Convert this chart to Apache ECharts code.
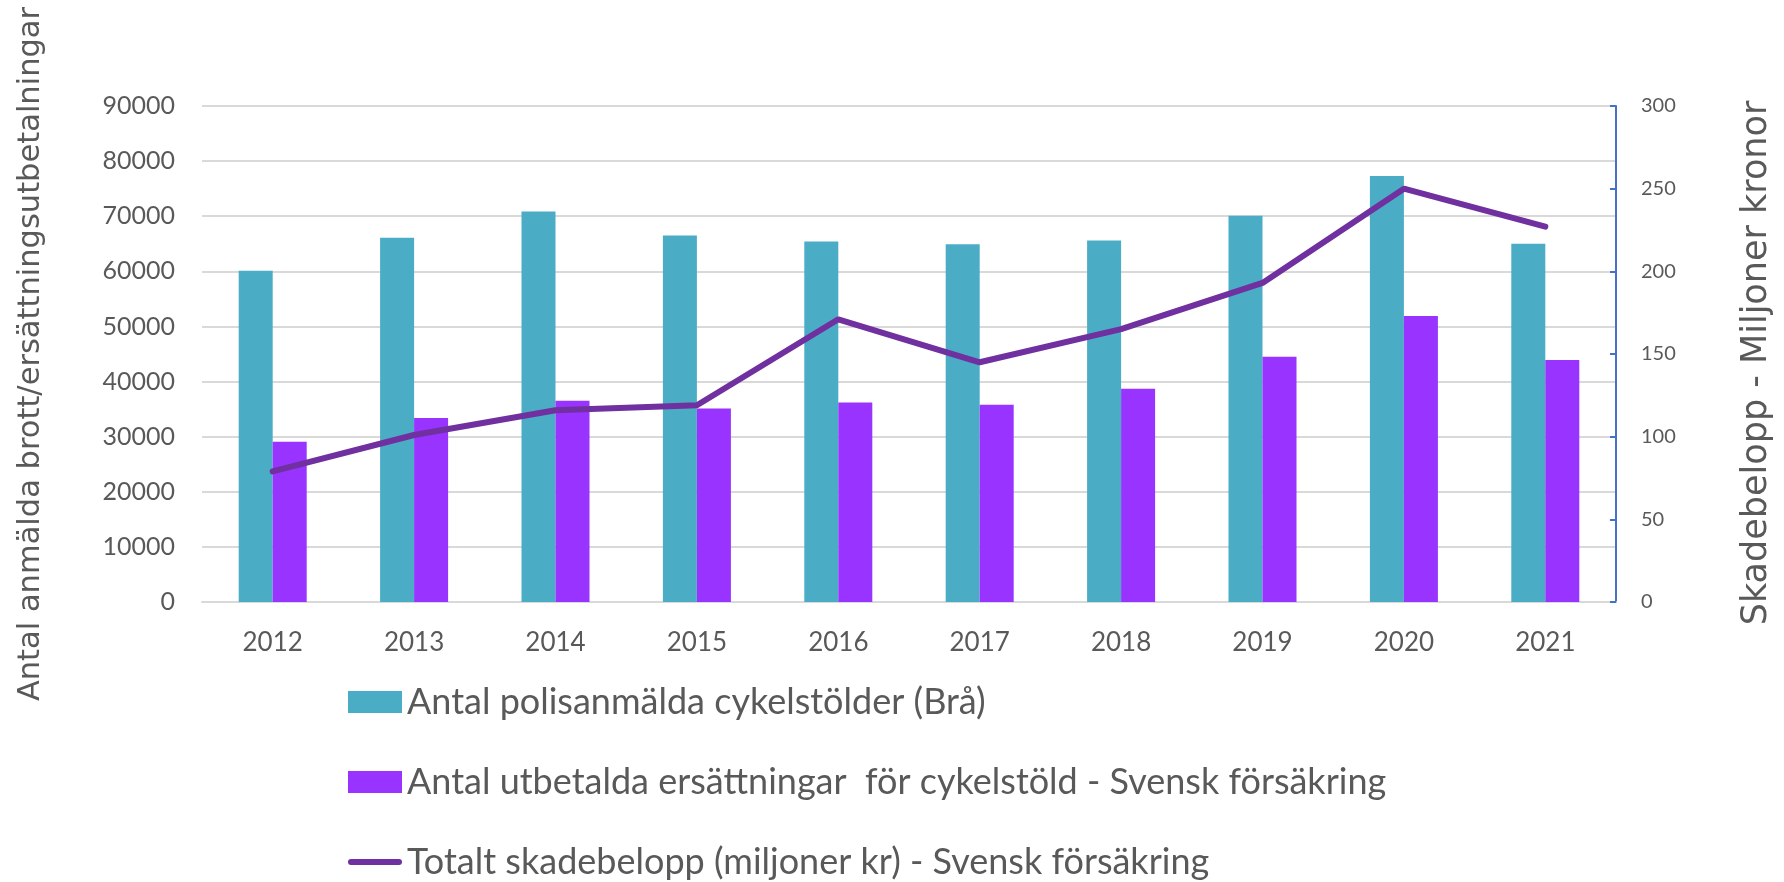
<!DOCTYPE html>
<html>
<head>
<meta charset="utf-8">
<script src="https://cdn.jsdelivr.net/npm/echarts@6/dist/echarts.min.js"></script>
<style>
html, body { margin: 0; padding: 0; background: #fff; }
#chart { width: 1784px; height: 882px; }
</style>
</head>
<body>
<div id="chart"></div>
<script>
// data
var years = ['2012', '2013', '2014', '2015', '2016', '2017', '2018', '2019', '2020', '2021'];
var polisanmalda = [60100, 66100, 70850, 66500, 65400, 64900, 65600, 70100, 77300, 65000];
var utbetalda = [29100, 33400, 36500, 35100, 36200, 35800, 38700, 44500, 51900, 43900];
var skadebelopp = [79, 101, 116, 119, 171, 145, 165, 193, 250, 227];

var names = [
    'Antal polisanmälda cykelstölder (Brå)',
    'Antal utbetalda ersättningar  för cykelstöld - Svensk försäkring',
    'Totalt skadebelopp (miljoner kr) - Svensk försäkring'
];

var textGrey = '#595959';
// thin rounded stroke for the line series in the legend (box kept 54x22)
var lineIcon = 'path://M0,0L0.01,0M3,8L51,8A3,3,0,0,1,51,14L3,14A3,3,0,0,1,3,8ZM0,22L0.01,22';

var myChart = echarts.init(document.getElementById('chart'));

var option = {
    animation: false,
    grid: { left: 202, right: 168, top: 106, bottom: 280 },
    legend: {
        orient: 'vertical',
        left: 343,
        top: 677,
        height: 260,
        itemWidth: 54,
        itemHeight: 22,
        itemGap: 40,
        data: [
            { name: names[0], icon: 'rect' },
            { name: names[1], icon: 'rect' },
            { name: names[2], icon: lineIcon }
        ],
        textStyle: {
            color: textGrey,
            fontFamily: 'Lato',
            fontSize: 36,
            lineHeight: 40
        }
    },
    xAxis: {
        type: 'category',
        data: years,
        axisTick: { show: false },
        axisLine: { lineStyle: { color: '#d9d9d9', width: 2 } },
        axisLabel: {
            color: textGrey,
            fontFamily: 'Lato',
            fontSize: 26,
            margin: 28
        }
    },
    yAxis: [{
        type: 'value',
        min: 0,
        max: 90000,
        interval: 10000,
        axisLine: { show: false },
        axisTick: { show: false },
        axisLabel: {
            color: textGrey,
            fontFamily: 'Lato',
            fontSize: 25,
            margin: 27,
            formatter: function (v) { return String(v); }
        },
        splitLine: { lineStyle: { color: '#d9d9d9', width: 2 } }
    }, {
        type: 'value',
        min: 0,
        max: 300,
        interval: 50,
        position: 'right',
        axisLine: { show: true, lineStyle: { color: '#4472c4', width: 2 } },
        axisTick: { show: true, inside: true, length: 6, lineStyle: { color: '#4472c4', width: 2 } },
        axisLabel: {
            color: textGrey,
            fontFamily: 'Lato',
            fontSize: 20,
            margin: 25
        },
        splitLine: { show: false }
    }],
    graphic: [{
        type: 'text',
        x: 31,
        y: 354,
        rotation: Math.PI / 2,
        style: {
            text: 'Antal anmälda brott/ersättningsutbetalningar',
            fill: textGrey,
            fontFamily: 'DejaVu Sans',
            fontSize: 30.5,
            align: 'center',
            verticalAlign: 'middle'
        }
    }, {
        type: 'text',
        x: 1757,
        y: 363,
        rotation: Math.PI / 2,
        style: {
            text: 'Skadebelopp - Miljoner kronor',
            fill: textGrey,
            fontFamily: 'DejaVu Sans',
            fontSize: 35,
            align: 'center',
            verticalAlign: 'middle'
        }
    }],
    series: [{
        name: names[0],
        type: 'bar',
        data: polisanmalda,
        barWidth: 34,
        barGap: 0,
        itemStyle: { color: '#4bacc6' }
    }, {
        name: names[1],
        type: 'bar',
        data: utbetalda,
        barWidth: 34,
        barGap: 0,
        itemStyle: { color: '#9933ff' }
    }, {
        name: names[2],
        type: 'line',
        yAxisIndex: 1,
        data: skadebelopp,
        symbol: 'none',
        lineStyle: { color: '#7030a0', width: 6, cap: 'round' },
        itemStyle: { color: '#7030a0' }
    }]
};

myChart.setOption(option);
</script>
</body>
</html>
